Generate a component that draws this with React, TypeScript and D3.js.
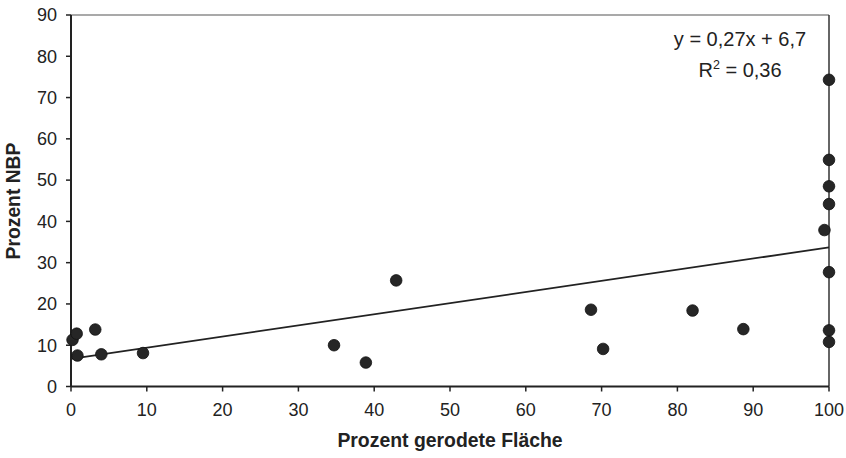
import React from "react";
import * as d3 from "d3";

const xValues = [0.2, 0.75, 0.85, 3.2, 4.0, 9.5, 34.7, 38.9, 42.9, 68.6, 70.2, 82.0, 88.7, 99.4, 100, 100, 100, 100, 100, 100, 100];
const yValues = [11.3, 12.8, 7.5, 13.8, 7.8, 8.1, 10.0, 5.8, 25.7, 18.6, 9.1, 18.4, 13.9, 37.9, 74.3, 54.9, 48.5, 44.2, 27.7, 13.6, 10.8];
const xTicks = [0, 10, 20, 30, 40, 50, 60, 70, 80, 90, 100];
const yTicks = [0, 10, 20, 30, 40, 50, 60, 70, 80, 90];
const slope = 0.27;
const intercept = 6.7;
const equationLabel = "y = 0,27x + 6,7";
const rSquaredValue = "0,36";
const xTitle = "Prozent gerodete Fläche";
const yTitle = "Prozent NBP";

const W = 846;
const H = 458;
const L = 71, R = 829, T = 15, B = 386.5;
const font = "'Liberation Sans', Arial, sans-serif";
const ink = "#222";

export default function App() {
  const x = d3.scaleLinear().domain([0, 100]).range([L, R]);
  const y = d3.scaleLinear().domain([0, 90]).range([B, T]);
  const trend = d3.line<number>().x((d) => x(d)).y((d) => y(slope * d + intercept));
  const pts = xValues.map((v, i) => ({ x: v, y: yValues[i] }));

  return (
    <svg width={W} height={H} style={{ position: "absolute", left: 0, top: 0, background: "#fff" }} fontFamily={font}>
      <rect x={0} y={0} width={W} height={H} fill="#fff" />
      {/* frame */}
      <line x1={L} y1={T} x2={R} y2={T} stroke="#555" strokeWidth={1.2} />
      <line x1={R} y1={T} x2={R} y2={B} stroke="#333" strokeWidth={1.5} />
      <line x1={L} y1={T} x2={L} y2={B} stroke={ink} strokeWidth={2} />
      <line x1={L} y1={B} x2={R} y2={B} stroke={ink} strokeWidth={2} />
      {/* y ticks */}
      {yTicks.map((t) => (
        <g key={"y" + t}>
          <line x1={L - 5} x2={L} y1={y(t)} y2={y(t)} stroke={ink} strokeWidth={1.5} />
          <text x={57} y={y(t) + 6.3} textAnchor="end" fontSize={18} fill={ink}>
            {t}
          </text>
        </g>
      ))}
      {/* x ticks */}
      {xTicks.map((t) => (
        <g key={"x" + t}>
          <line x1={x(t)} x2={x(t)} y1={B} y2={B + 5} stroke={ink} strokeWidth={1.5} />
          <text x={x(t)} y={416} textAnchor="middle" fontSize={18} fill={ink}>
            {t}
          </text>
        </g>
      ))}
      {/* trend line */}
      <path d={trend([0, 100]) || ""} fill="none" stroke={ink} strokeWidth={1.8} />
      {/* points */}
      {pts.map((p, i) => (
        <circle key={i} cx={x(p.x)} cy={y(p.y)} r={5.8} fill="#262626" stroke="#111" strokeWidth={0.8} />
      ))}
      {/* equation */}
      <text x={740} y={46} textAnchor="middle" fontSize={20} fill={ink}>
        {equationLabel}
      </text>
      <text x={740} y={77} textAnchor="middle" fontSize={20} fill={ink}>
        R<tspan dy={-8} fontSize={12.5}>2</tspan>
        <tspan dy={8}> = {rSquaredValue}</tspan>
      </text>
      {/* axis titles */}
      <text x={(L + R) / 2} y={447} textAnchor="middle" fontSize={19.4} fontWeight="bold" fill={ink}>
        {xTitle}
      </text>
      <text transform={`translate(20,201) rotate(-90)`} textAnchor="middle" fontSize={19.3} fontWeight="bold" fill={ink}>
        {yTitle}
      </text>
    </svg>
  );
}
